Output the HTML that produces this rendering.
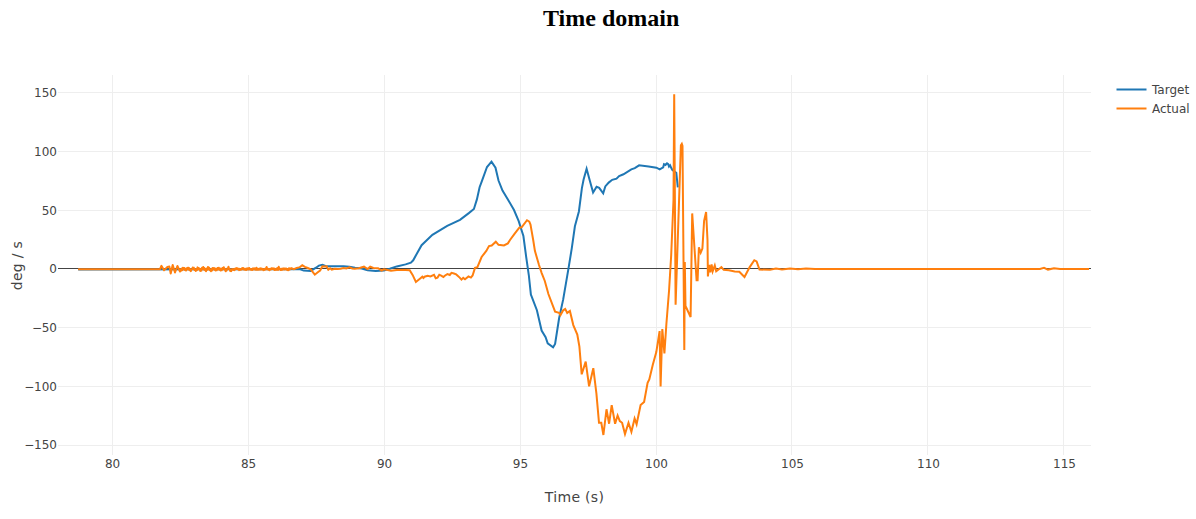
<!DOCTYPE html>
<html><head><meta charset="utf-8"><title>Time domain</title>
<style>
html,body{margin:0;padding:0;background:#fff;}
body{width:1196px;height:519px;overflow:hidden;position:relative;}
h2{position:absolute;left:0;top:0;width:1196px;margin:0;text-align:left;font:bold 24px "Liberation Serif","Times New Roman",serif;color:#000;}
h2 span{position:absolute;left:543px;top:5px;white-space:nowrap;}
svg{position:absolute;left:0;top:0;}
.tk{font-family:"DejaVu Sans",Verdana,sans-serif;font-size:12px;fill:#444;} .tl{letter-spacing:0;} .yl{letter-spacing:0;}
.ti{font-family:"DejaVu Sans",Verdana,sans-serif;font-size:14px;fill:#444;letter-spacing:0.3px;}
</style></head>
<body>
<h2><span>Time domain</span></h2>
<svg width="1196" height="519" viewBox="0 0 1196 519">
<g stroke="#eee" stroke-width="1" fill="none" shape-rendering="crispEdges">
<path d="M58,92.5H1091"/><path d="M58,151.5H1091"/><path d="M58,210.5H1091"/><path d="M58,327.5H1091"/><path d="M58,386.5H1091"/><path d="M58,445.5H1091"/><path d="M112.5,75V455"/><path d="M248.5,75V455"/><path d="M384.5,75V455"/><path d="M520.5,75V455"/><path d="M656.5,75V455"/><path d="M791.5,75V455"/><path d="M927.5,75V455"/><path d="M1063.5,75V455"/>
</g>
<path d="M58,268.5H1091" stroke="#444" stroke-width="1" shape-rendering="crispEdges"/>
<g fill="none" stroke-width="2" stroke-linecap="butt">
<path stroke="#1f77b4" d="M78.2,269.45 285,269.2 299.6,269.1 303.7,270.6 310.7,270.9 316,267.7 318.9,265.6 322.4,264.7 326,266.2 343.5,266.2 349.4,266.8 355,267.7 361.7,268.5 367.6,270.2 375.7,271.1 383.9,270.5 389.8,268.8 396.8,266.4 405.6,264.4 410.9,262.6 413.2,260.3 416.1,255 421.6,245.2 432.4,234.9 447.2,225.9 460,219.8 468.8,213.1 473.9,209 476.9,199.4 479.6,187.2 481.6,181.8 487,167 491.5,161.6 495.5,167.7 498.5,180.5 502.5,190.6 507.9,199.4 514,210 518.7,221.2 523.4,236 526.1,256.3 528.8,275 530.9,294.7 531.5,296.1 536.9,310.2 541.6,330.5 545.6,337.2 547.7,343.3 553.1,347.3 555.1,344 559.1,318.3 563.2,299.4 568.5,268.4 571.8,248.2 574.9,226.3 578.9,211.5 581.9,188.1 583.6,179.5 586.6,168.7 589.7,180.3 593.1,192.5 596.6,186.8 599.2,187.8 603.2,193.3 605.3,186.4 608.7,182.6 612.2,179.8 616.5,178.6 619.1,176 623.5,174.3 631.3,169.4 634.8,168.2 639.1,165.3 648.6,166.5 656.4,167.7 659.7,169.3 663.2,167.3 664,164.2 665.5,165 667,163.3 668.2,164.2 669,166.6 670.1,165.4 671.3,168.1 672.4,170 676.3,172.7 677.8,187.4"/>
<path stroke="#ff7f0e" stroke-linejoin="round" d="M78.1,269.2 160,269.2 161.4,265.8 164,270.3 167.4,267 169.4,266.6 170.7,273.6 172.7,265 175,272.5 177.4,266 180,271.5 180.6,269.31 181.16,270.66 181.77,268.56 182.35,270.13 182.86,267.81 183.48,269.2 184.16,267.99 184.84,269.95 185.41,268.73 186.05,270.59 186.64,268.26 187.18,269.44 187.84,267.78 188.42,269.43 188.91,267.86 189.6,270.34 190.21,269.08 190.81,271.13 191.53,269.15 192.17,269.33 192.68,267.51 193.21,268.9 193.8,267.73 194.49,269.91 195.18,269.21 195.72,271.08 196.26,269.09 196.88,270.17 197.51,267.36 198.19,269.18 198.7,268.05 199.22,269.32 199.72,268.67 200.24,270.91 200.75,269.3 201.34,270.65 202.02,267.75 202.54,268.99 203.23,266.98 203.75,269.46 204.3,267.92 204.99,270.11 205.52,269.11 206.01,271.25 206.72,268.63 207.43,269.61 207.96,266.97 208.64,269.16 209.14,267.71 209.8,270.15 210.36,269.3 210.93,271.24 211.45,269.06 211.96,270.45 212.52,268.09 213.16,269.29 213.85,267.95 214.4,269.67 214.98,268.5 215.57,270.44 216.27,269.12 216.76,270.27 217.43,267.98 218.04,269.24 218.71,267.77 219.26,269.83 219.92,268.47 220.52,270.54 221.13,268.72 221.82,270.27 222.52,267.96 223.02,268.94 223.72,267.23 224.23,269.6 224.94,268.75 225.62,271.27 226.18,269.81 226.67,270.42 227.22,268.46 227.94,268.78 228.48,266.79 229,269.16 229.54,268.65 230.19,271.02 230.68,269.68 231.18,271.12 231.75,269.34 232.26,269.62 232.77,268.96 233.44,269.85 233.92,268.94 234.52,270.08 235.2,268.55 235.76,269.2 236.32,268.09 236.84,269.05 237.39,268.31 237.98,269.33 238.51,268.78 239.09,270.09 239.57,268.84 240.12,269.84 240.76,268.94 241.47,269.6 242.15,268.04 242.67,269.33 243.35,268.14 243.88,269.56 244.5,268.76 244.98,269.72 245.61,268.71 246.16,270.08 246.76,268.54 247.38,269.56 247.94,268.27 248.58,269.49 249.18,268.01 249.88,269.41 250.47,268.97 251.09,269.83 251.76,268.99 252.46,270.02 253.01,268.34 253.49,269.36 254.14,268.33 254.86,269.49 255.36,268.4 255.9,269.81 256.6,267.71 257.31,269.76 257.9,269.06 258.6,269.67 259.26,268.64 259.87,269.58 260.57,268.27 261.16,269.53 261.66,268.51 262.32,269.54 262.88,269.03 263.48,270.22 264.02,268.94 264.71,269.92 265.33,268.64 266.02,269.35 266.62,267.01 267.29,269.14 267.82,268.75 268.36,269.82 268.97,268.84 269.45,270.28 270.14,268.94 270.79,269.45 271.33,268.28 271.89,269.19 272.55,268.3 273.23,269.28 273.94,268.29 274.58,270.06 275.09,269.12 275.75,269.94 276.45,268.54 277.01,269.8 277.52,268.14 278.2,269.89 278.72,266.82 279.4,269.26 279.94,268.66 280.65,269.95 281.2,268.7 281.9,269.98 282.61,268.56 283.31,269.41 283.98,268.38 284.65,269.49 285.14,268.49 285.84,269.5 286.44,268.66 287.06,269.91 287.57,269.17 288.23,270.18 288.92,268.34 289.52,269.64 290.03,268.18 290.52,269.09 290.9,268"/>
<path stroke="#ff7f0e" d="M290.9,268 293.8,269.1 296.7,268 299,267.4 300.2,266.8 302.3,265.3 304.9,266.8 307.8,268 310.7,269.4 314.8,274.7 317.8,272.3 320.1,270.6 322.4,266.2 325.4,266.5 326.5,266.2 328.3,269.7 330.1,268.2 331.8,269.7 334.7,268.8 337.7,269.1 340.6,268.8 343.5,268 346.4,268.5 349.4,267.4 352.3,268.5 354.7,268.8 358.8,268.2 364,266.7 367.6,269 370.2,266.7 373.4,267.9 378.1,268.2 381.6,270.5 383.9,269.3 391,270.8 396.8,269.9 405.6,269.9 409.7,270.2 412.6,274.9 415.9,282 420.5,278.2 422.3,276.7 423.5,278 424.6,276.7 427.6,275.8 430.5,276.4 434,274.9 435.7,278.2 437.5,277.6 439.3,274.7 441.6,275.8 443.4,277 445.1,275.5 447.4,274.1 449.8,275 451.5,272.9 453.9,273.5 456.2,274.4 459.7,277.6 461.5,279.6 463.2,277.9 465,279.3 468.5,276.4 470.9,277.6 472.6,275.5 475,267.9 477.3,267.3 481.6,257 486.3,250.9 489,246.1 491.7,245.5 495.8,241.7 498.5,244.8 503.9,245.5 507.9,243.4 510,240 514.5,233.8 519.3,227.7 521.6,227.3 527,220.2 529.3,221.6 530.5,224.5 531.6,230.8 533.2,240 534.9,250.9 539,265 541.7,273.1 544.8,281 548.4,294 555.1,311.6 559.1,312.9 560.5,315 563.2,310.2 565.2,308.9 567.2,312.9 569.9,310.9 573.3,325.1 577.3,334.5 579.4,346.7 581.7,374.3 585.7,361.6 589.1,386.4 593.3,368.2 596.4,393.4 599,422.8 601.3,422.8 603.4,435 606.5,409.3 609.1,423.7 611.7,405.1 615.1,423.7 617.6,415.5 619.8,421.1 622.1,422.8 625,434.1 628.5,422.8 631.4,431.8 634.6,418.5 636.6,424.2 640.6,405.1 644.1,402 647.6,382.9 649.3,379.5 652.8,364.7 656.3,352.1 659.6,331.1 660.6,386.4 662.3,329.1 664.4,353.4 666.4,323.7 669.1,290 671.2,255 673.5,200 674.2,94.3 675.6,304.7 680.9,145.2 681.8,143.8 682.5,146 684.3,350 684.8,262 685.5,306 690.6,317 692.2,213.4 696.6,280.3 697.6,280.3 698.9,247.4 700.7,252.6 702.4,248.6 704.1,220.8 706.1,212 707.5,240 707.9,276.4 709.2,264.8 710.4,272.3 711.6,264.3 712.7,271.2 714.8,265.4 716.2,271.2 721.4,267.1 723.7,269.8 728.9,270.3 734.7,271.4 739.3,271.8 744.5,277 749.7,267.1 754.3,260.2 756.6,261.4 759.5,269.5 770,269.8 776,268.6 782,269.4 790,268.4 798,269.2 806,268.6 815,269 1040,268.9 1044,267.9 1048,269.6 1054,268.3 1060,269 1089,268.9"/>
</g>
<g class="tk tl">
<text class="yl" x="57" y="96.7" text-anchor="end">150</text><text class="yl" x="57" y="155.7" text-anchor="end">100</text><text class="yl" x="57" y="214.7" text-anchor="end">50</text><text class="yl" x="57" y="272.7" text-anchor="end">0</text><text class="yl" x="57" y="331.7" text-anchor="end"><tspan letter-spacing="-0.3">−</tspan>50</text><text class="yl" x="57" y="390.7" text-anchor="end"><tspan letter-spacing="-0.3">−</tspan>100</text><text class="yl" x="57" y="448.7" text-anchor="end"><tspan letter-spacing="-0.3">−</tspan>150</text>
<text x="112.6" y="468" text-anchor="middle">80</text><text x="248.6" y="468" text-anchor="middle">85</text><text x="384.6" y="468" text-anchor="middle">90</text><text x="520.5" y="468" text-anchor="middle">95</text><text x="656.5" y="468" text-anchor="middle">100</text><text x="792.5" y="468" text-anchor="middle">105</text><text x="928.5" y="468" text-anchor="middle">110</text><text x="1064.5" y="468" text-anchor="middle">115</text>
</g>
<text class="ti" x="574.5" y="502" text-anchor="middle">Time (s)</text>
<text class="ti" transform="translate(22,265.6) rotate(-90)" text-anchor="middle">deg / s</text>
<g>
<path d="M1116.5,89.5H1146.5" stroke="#1f77b4" stroke-width="2"/>
<path d="M1116.5,108.5H1146.5" stroke="#ff7f0e" stroke-width="2"/>
<text class="tk" x="1152" y="94">Target</text>
<text class="tk" x="1152" y="113">Actual</text>
</g>
</svg>
</body></html>
